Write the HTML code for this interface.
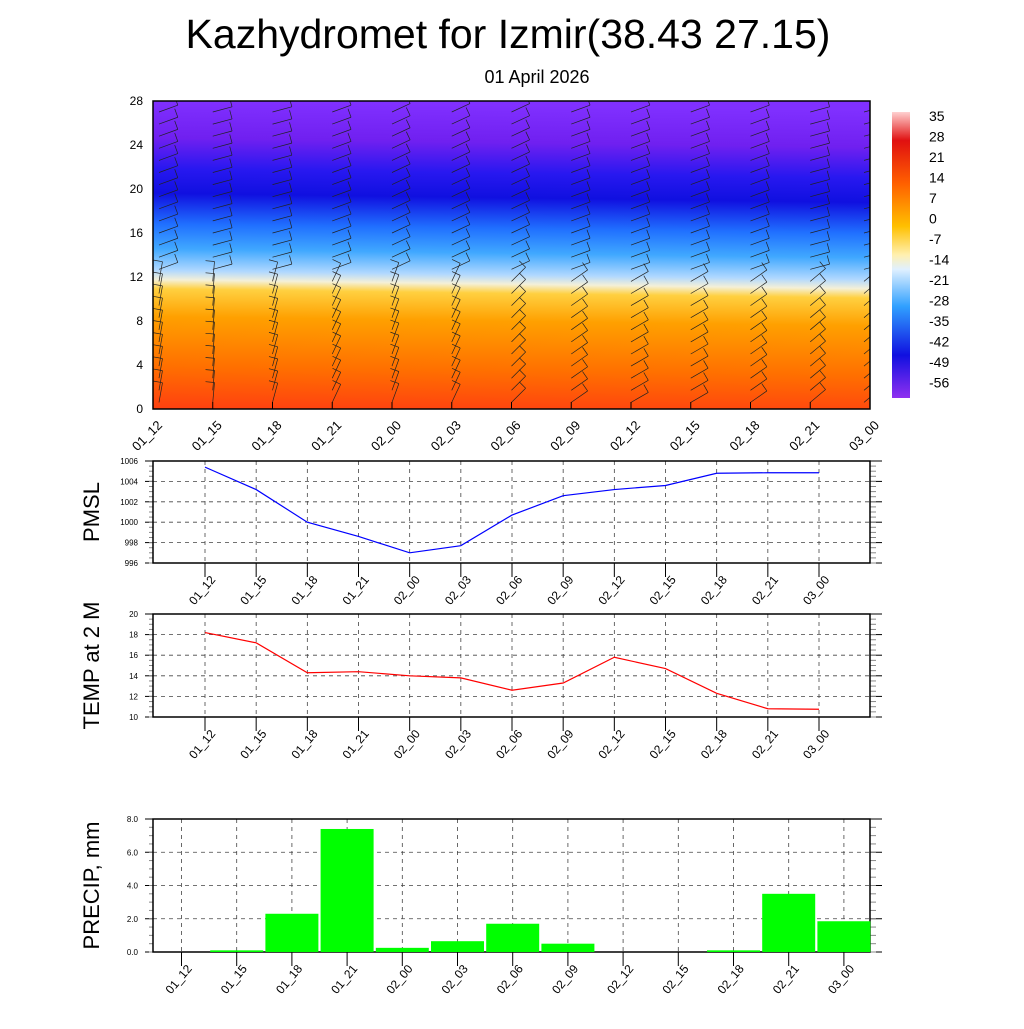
<!DOCTYPE html>
<html><head><meta charset="utf-8"><style>
body{margin:0;background:#fff;}
svg{font-family:"Liberation Sans",sans-serif;}
</style></head><body>
<svg id="s" width="1024" height="1024" viewBox="0 0 1024 1024" xmlns="http://www.w3.org/2000/svg">
<defs>
<linearGradient id="tg" x1="0" y1="1" x2="0.03" y2="0">
<stop offset="0" stop-color="#ff4010"/>
<stop offset="0.14" stop-color="#ff7000"/>
<stop offset="0.3" stop-color="#ffa000"/>
<stop offset="0.39" stop-color="#ffd040"/>
<stop offset="0.42" stop-color="#f4f0d8"/>
<stop offset="0.45" stop-color="#b0d8ff"/>
<stop offset="0.52" stop-color="#40a8ff"/>
<stop offset="0.6" stop-color="#2070ff"/>
<stop offset="0.7" stop-color="#1010e0"/>
<stop offset="0.78" stop-color="#2818f0"/>
<stop offset="0.88" stop-color="#7020f0"/>
<stop offset="1" stop-color="#8030ff"/>
</linearGradient>
<linearGradient id="cb" x1="0" y1="0" x2="0" y2="1">
<stop offset="0" stop-color="#ffd0d0"/>
<stop offset="0.1" stop-color="#e01010"/>
<stop offset="0.25" stop-color="#ff6000"/>
<stop offset="0.4" stop-color="#ffc000"/>
<stop offset="0.5" stop-color="#fff0b0"/>
<stop offset="0.55" stop-color="#e0f0ff"/>
<stop offset="0.68" stop-color="#30a0ff"/>
<stop offset="0.85" stop-color="#1010e0"/>
<stop offset="1" stop-color="#9030f0"/>
</linearGradient>
<clipPath id="clipTop"><rect x="153" y="101" width="717" height="308"/></clipPath>
</defs>
<text x="508" y="48" font-size="41" text-anchor="middle">Kazhydromet for Izmir(38.43 27.15)</text>
<text x="537" y="83" font-size="18" text-anchor="middle">01 April 2026</text>
<rect x="153" y="101" width="717" height="308" fill="url(#tg)"/>
<g id="barbs" clip-path="url(#clipTop)"></g>
<rect x="153" y="101" width="717" height="308" fill="none" stroke="#000" stroke-width="1.5"/>
<g id="topaxes"></g>
<rect x="892" y="112" width="18" height="286" fill="url(#cb)"/>
<g id="cblab"></g>
<g id="p1"></g>
<g id="p2"></g>
<g id="p3"></g>
</svg>
<script>
const categories=["01_12","01_15","01_18","01_21","02_00","02_03","02_06","02_09","02_12","02_15","02_18","02_21","03_00"];
const pmsl=[1005.4,1003.2,1000.0,998.6,997.0,997.7,1000.7,1002.6,1003.2,1003.6,1004.8,1004.85,1004.85];
const temp2m=[18.2,17.2,14.3,14.4,14.0,13.8,12.6,13.3,15.8,14.7,12.3,10.8,10.75];
const precip=[0,0.1,2.3,7.4,0.25,0.65,1.7,0.5,0,0,0.1,3.5,1.85];
const heightTicks=[0,4,8,12,16,20,24,28];
const colorbarLabels=["35","28","21","14","7","0","-7","-14","-21","-28","-35","-42","-49","-56"];
const windDirLow=[190,185,195,205,200,205,225,235,240,240,235,230,230];
const windDirHigh=[250,255,255,250,245,245,245,250,250,250,250,255,255];

const S=document.getElementById('s');
const NS='http://www.w3.org/2000/svg';
function mk(t,a,p,txt){const e=document.createElementNS(NS,t);for(const k in a)e.setAttribute(k,a[k]);if(txt!==undefined)e.textContent=txt;p.appendChild(e);return e;}

const ta=document.getElementById('topaxes');
const tx=i=>153+i*(717/12), ty=v=>409-v*11;
heightTicks.forEach(v=>{const t=mk('text',{x:143,y:ty(v)+4,'font-size':12,'text-anchor':'end'},ta,v);
});
categories.forEach((c,i)=>{const x=tx(i);
mk('line',{x1:x,y1:409,x2:x,y2:402,stroke:'#000'},ta);
const t=mk('text',{x:x+10,y:426,'font-size':13,'text-anchor':'end',transform:`rotate(-45 ${x+10} 426)`},ta,c);
});
const bg=document.getElementById('barbs');
categories.forEach((c,i)=>{for(let h=0.6;h<28;h+=1.1){
 const d=(h<12?windDirLow[i]:windDirHigh[i])*Math.PI/180;
 const x=tx(i)+(i===0?6:0)+(i===12?-6:0), y=ty(h);
 const L=20, ex=x-L*Math.sin(d), ey=y+L*Math.cos(d);
 mk('line',{x1:x,y1:y,x2:ex,y2:ey,stroke:'#222','stroke-width':0.7},bg);
 const bx=ex+9*Math.cos(d), by=ey+9*Math.sin(d);
 mk('line',{x1:ex,y1:ey,x2:bx,y2:by,stroke:'#222','stroke-width':0.7},bg);
}});
const cbl=document.getElementById('cblab');
colorbarLabels.forEach((l,i)=>{const t=mk('text',{x:929,y:121+i*20.5,'font-size':14},cbl,l);
});

function panel(g,top,bot,ymin,ymax,ystep,title,fmt,xc){
 const X0=153,X1=870,H=bot-top;
 const yf=v=>bot-(v-ymin)/(ymax-ymin)*H;
 for(let v=ymin;v<=ymax+1e-9;v+=ystep){const y=yf(v);
  if(v>ymin&&v<ymax)mk('line',{x1:X0,y1:y,x2:X1,y2:y,stroke:'#444','stroke-dasharray':'4 4','stroke-width':0.8},g);
  mk('line',{x1:X0,y1:y,x2:X0-8,y2:y,stroke:'#000'},g);mk('line',{x1:X1,y1:y,x2:X1+12,y2:y,stroke:'#000'},g);
  const t=mk('text',{x:X0-15,y:y+3,'font-size':8,'text-anchor':'end'},g,fmt(v));
  }
 for(let v=ymin;v<ymax;v+=ystep/4){const y=yf(v);mk('line',{x1:X0,y1:y,x2:X0-4,y2:y,stroke:'#888'},g);mk('line',{x1:X1,y1:y,x2:X1+6,y2:y,stroke:'#888'},g);}
 categories.forEach((c,i)=>{const x=xc(i);
  mk('line',{x1:x,y1:top,x2:x,y2:bot,stroke:'#444','stroke-dasharray':'4 4','stroke-width':0.8},g);
  mk('line',{x1:x,y1:bot,x2:x,y2:bot+14,stroke:'#000'},g);
  const t=mk('text',{x:x+11,y:bot+17,'font-size':12,'text-anchor':'end',transform:`rotate(-50 ${x+11} ${bot+17})`},g,c);
  });
 mk('rect',{x:X0,y:top,width:X1-X0,height:H,fill:'none',stroke:'#000','stroke-width':1.5},g);
 const cy=(top+bot)/2;
 const tt=mk('text',{x:99,y:cy,'font-size':22,'text-anchor':'middle',transform:`rotate(-90 99 ${cy})`},g,title);
 
 return yf;
}
const lx=i=>205+i*(819-205)/12;
const g1=document.getElementById('p1');
const y1=panel(g1,461,563,996,1006,2,'PMSL',v=>v,lx);
const pl=mk('polyline',{points:pmsl.map((v,i)=>lx(i)+','+y1(v)).join(' '),fill:'none',stroke:'#0000ff','stroke-width':1.2},g1);

const g2=document.getElementById('p2');
const y2=panel(g2,614,717,10,20,2,'TEMP at 2 M',v=>v,lx);
const tl=mk('polyline',{points:temp2m.map((v,i)=>lx(i)+','+y2(v)).join(' '),fill:'none',stroke:'#ff0000','stroke-width':1.2},g2);

const g3=document.getElementById('p3');
const bx=i=>181.5+i*55.2;
const y3=panel(g3,819,952,0,8,2,'PRECIP, mm',v=>v.toFixed(1),bx);
precip.forEach((v,i)=>{if(v<=0)return;const y=y3(v);
 const r=mk('rect',{x:bx(i)-26.5,y:y,width:53,height:952-y,fill:'#00ff00'},g3);
 });
</script>
</body></html>
